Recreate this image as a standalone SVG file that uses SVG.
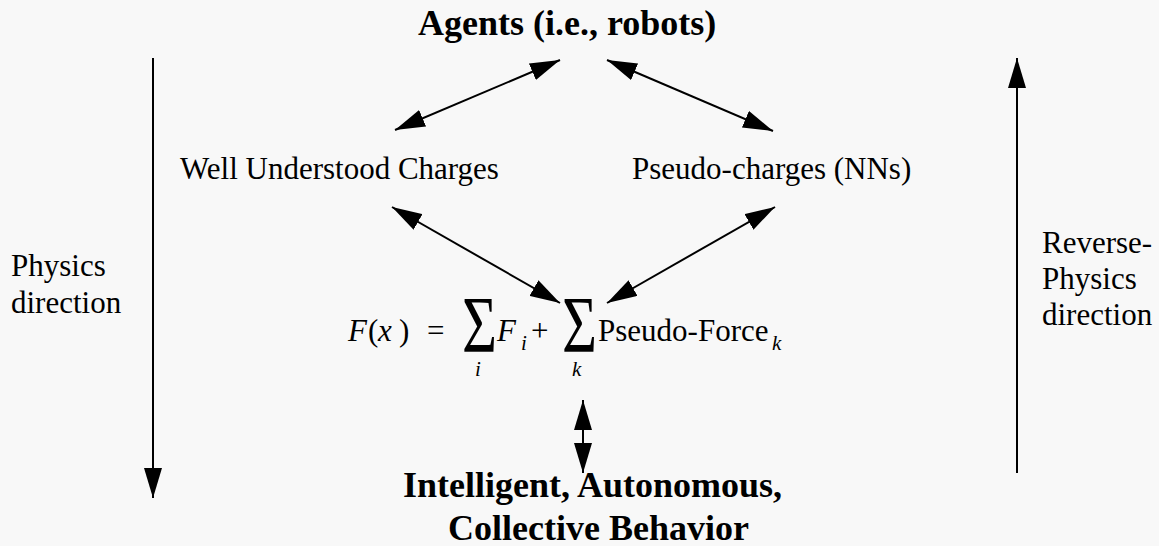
<svg xmlns="http://www.w3.org/2000/svg" width="1159" height="546" viewBox="0 0 1159 546">
<style>
text{font-family:"Liberation Serif","Times New Roman",serif;fill:#000}
.bold{font-weight:bold;font-size:36px}
.reg{font-size:31px}
.it{font-style:italic}
.sub{font-size:21px;font-style:italic}
.sum{font-size:47px}
.conn line{stroke:#000;stroke-width:2;fill:none}
</style>
<defs>
<marker id="ah" viewBox="0 0 30 18" refX="30" refY="9" markerWidth="30" markerHeight="18" markerUnits="userSpaceOnUse" orient="auto-start-reverse">
<path d="M0,0 L30,9 L0,18 z" fill="#000"/>
</marker>
</defs>
<rect width="1159" height="546" fill="#f8f8f8"/>
<g id="agents"><text class="bold" x="418" y="35">Agents (i.e., robots)</text></g>
<g id="well-understood"><text class="reg" x="180" y="179">Well Understood Charges</text></g>
<g id="pseudo-charges"><text class="reg" x="632" y="179">Pseudo-charges (NNs)</text></g>
<g id="equation">
<text class="reg it" x="348" y="341">F</text>
<text class="reg" x="368" y="341">(</text>
<text class="reg it" x="378" y="341">x</text>
<text class="reg" x="399" y="341">)</text>
<text class="reg" x="427" y="341">=</text>
<text class="sum" transform="translate(462,352) scale(1.28,1.7)">Σ</text>
<text class="reg it" x="497" y="341">F</text>
<text class="sub" x="521" y="350">i</text>
<text class="reg" x="531" y="341">+</text>
<text class="sum" transform="translate(562,352) scale(1.28,1.7)">Σ</text>
<text class="reg" x="598" y="341">Pseudo-Force</text>
<text class="sub" x="772" y="350">k</text>
<text class="sub" x="475" y="376">i</text>
<text class="sub" x="572" y="376">k</text>
</g>
<g id="behavior">
<text class="bold" x="403" y="497">Intelligent, Autonomous,</text>
<text class="bold" x="448" y="540">Collective Behavior</text>
</g>
<g id="physics-label">
<text class="reg" x="11" y="276">Physics</text>
<text class="reg" x="11" y="313">direction</text>
</g>
<g id="reverse-label">
<text class="reg" x="1042" y="253">Reverse-</text>
<text class="reg" x="1042" y="289">Physics</text>
<text class="reg" x="1042" y="325">direction</text>
</g>
<g id="connectors" class="conn">
<line x1="153" y1="58" x2="153" y2="498" marker-end="url(#ah)"/>
<line x1="1017" y1="473" x2="1017" y2="58" marker-end="url(#ah)"/>
<line x1="583" y1="400" x2="583" y2="473" marker-start="url(#ah)" marker-end="url(#ah)"/>
<line x1="395" y1="130" x2="560" y2="60" marker-start="url(#ah)" marker-end="url(#ah)"/>
<line x1="607" y1="60" x2="773" y2="131" marker-start="url(#ah)" marker-end="url(#ah)"/>
<line x1="392" y1="207" x2="560" y2="303" marker-start="url(#ah)" marker-end="url(#ah)"/>
<line x1="775" y1="207" x2="607" y2="303" marker-start="url(#ah)" marker-end="url(#ah)"/>
</g>
</svg>
